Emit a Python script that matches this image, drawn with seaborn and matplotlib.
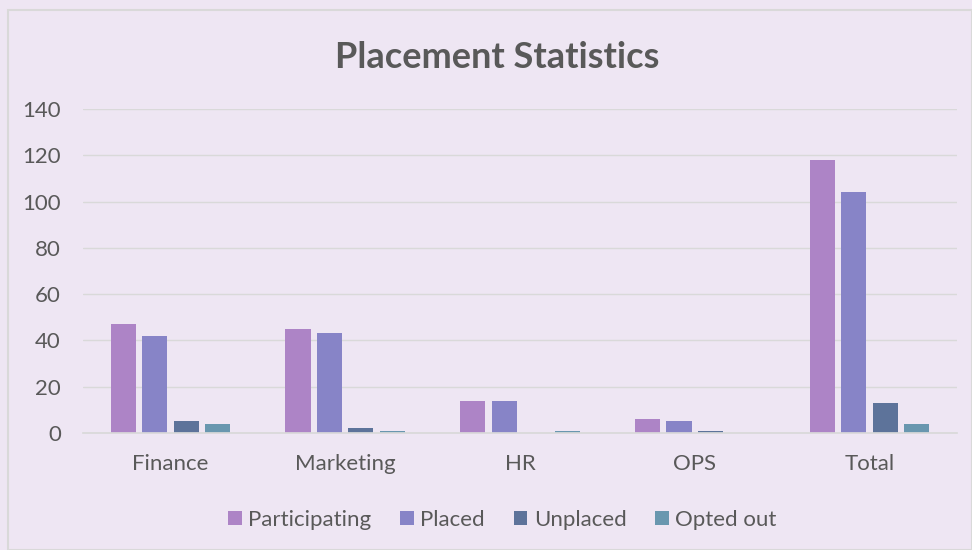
import pandas as pd
import matplotlib.pyplot as plt
import seaborn as sns
from matplotlib.patches import Rectangle

# data
departments = ["Finance", "Marketing", "HR", "OPS", "Total"]
participating = [47, 45, 14, 6, 118]
placed = [42, 43, 14, 5, 104]
unplaced = [5, 2, 0, 1, 13]
opted_out = [4, 1, 1, 0, 4]
series_names = ["Participating", "Placed", "Unplaced", "Opted out"]
y_ticks = [0, 20, 40, 60, 80, 100, 120, 140]

# long format for seaborn
rows = []
for name, vals in zip(series_names, [participating, placed, unplaced, opted_out]):
    for dept, v in zip(departments, vals):
        rows.append({"department": dept, "status": name, "count": v})
df = pd.DataFrame(rows)

colors = ["#AD84C6", "#8784C7", "#5D739A", "#6997AF"]
bg = "#EEE6F3"

sns.set_theme(style="white")
plt.rcParams["font.family"] = ["Lato", "DejaVu Sans"]

fig = plt.figure(figsize=(9.72, 5.5), dpi=100, facecolor=bg)
ax = fig.add_axes([0.0854, 0.2127, 0.8990, 0.5891])
ax.set_facecolor(bg)

sns.barplot(
    data=df, x="department", y="count", hue="status",
    palette=colors, width=0.72, gap=0.2, ax=ax,
    edgecolor="none", saturation=1
)

ax.set_ylim(0, 140)
ax.set_xlim(-0.5, 4.5)
ax.set_yticks(y_ticks)
ax.grid(axis="y", color="#D9D9D9", linewidth=1)
ax.set_axisbelow(True)
for s in ["top", "right", "left"]:
    ax.spines[s].set_visible(False)
ax.spines["bottom"].set_color("#D9D9D9")
ax.tick_params(axis="both", length=0, labelsize=16, labelcolor="#595959")
ax.tick_params(axis="y", pad=16)
ax.tick_params(axis="x", pad=15)
ax.set_xlabel("")
ax.set_ylabel("")

fig.suptitle("Placement Statistics", x=0.511, y=0.925, fontsize=26,
             fontweight="bold", color="#595959")

ax.legend(loc="upper center", bbox_to_anchor=(0.48, -0.175), ncol=4,
          frameon=False, fontsize=16, labelcolor="#595959",
          handlelength=0.6, handleheight=0.6, handletextpad=0.3,
          columnspacing=1.3)

# outer chart border
fig.patches.append(Rectangle((8 / 972, 0), 1 - 8 / 972, 1 - 10 / 550,
                             transform=fig.transFigure, fill=False,
                             edgecolor="#D9D9D9", linewidth=1.5))

plt.savefig("out.png", dpi=100, facecolor=bg)
